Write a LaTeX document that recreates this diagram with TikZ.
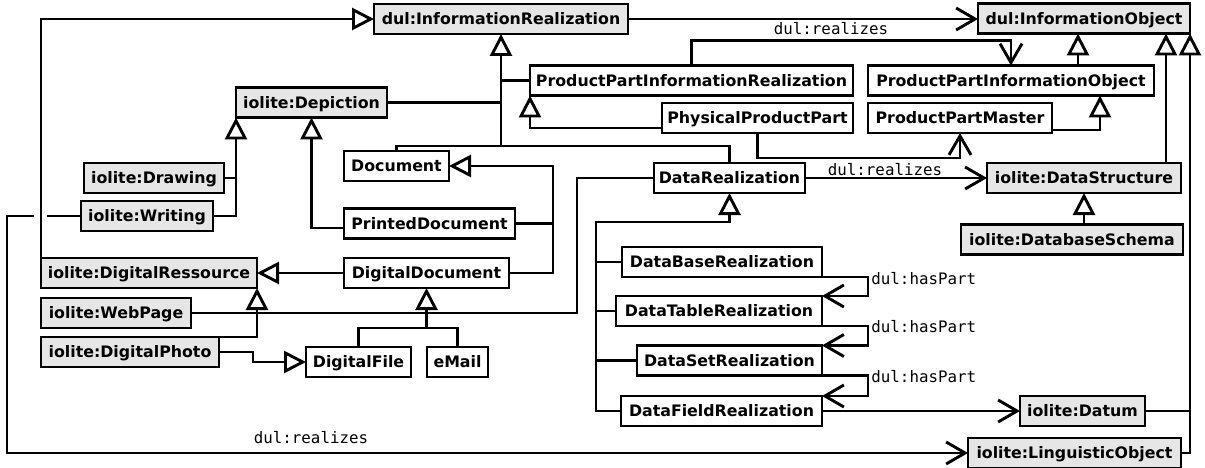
\documentclass[tikz,border=0pt]{standalone}
\usepackage{fontspec}
\setmainfont{DejaVu Sans}
\setmonofont{DejaVu Sans Mono}
\usetikzlibrary{arrows.meta}
\definecolor{boxgray}{HTML}{E6E6E6}
\begin{document}
\begin{tikzpicture}[x=1pt,y=-1pt,
  line width=2.9pt,
  cls/.style={draw, fill=white, font=\fontsize{15.8}{19}\selectfont\bfseries,
    minimum height=30pt, inner sep=0pt, outer sep=0pt, text height=11.5pt, text depth=0pt},
  gcls/.style={cls, fill=boxgray},
  lbl/.style={font=\fontsize{15.8}{19}\selectfont\ttfamily, inner sep=0pt},
  gen/.style={-{Triangle[open, length=22pt, width=22pt]}},
  assoc/.style={-{Straight Barb[length=19pt, width=22pt]}}
]
\useasboundingbox (0,0) rectangle (1205,468);

% nodes
\node[gcls, minimum width=254pt] (ir) at (501,19) {dul:InformationRealization};
\node[gcls, minimum width=212pt] (io) at (1084,18.5) {dul:InformationObject};
\node[cls, minimum width=323pt] (ppir) at (691.5,80.5) {ProductPartInformationRealization};
\node[cls, minimum width=286pt] (ppio) at (1011,80.5) {ProductPartInformationObject};
\node[gcls, minimum width=151pt] (dep) at (311.5,102.5) {iolite:Depiction};
\node[cls, minimum width=191pt] (ppp) at (757.5,118) {PhysicalProductPart};
\node[cls, minimum width=184pt] (ppm) at (960,118) {ProductPartMaster};
\node[cls, minimum width=105pt] (doc) at (396.5,166) {Document};
\node[gcls, minimum width=140pt] (drw) at (154,178) {iolite:Drawing};
\node[cls, minimum width=151pt] (dr) at (729.5,178) {DataRealization};
\node[gcls, minimum width=194pt] (ds) at (1084,178) {iolite:DataStructure};
\node[gcls, minimum width=132pt] (wr) at (147,216) {iolite:Writing};
\node[cls, minimum width=171pt] (pd) at (429.5,223.5) {PrintedDocument};
\node[gcls, minimum width=222pt] (dbs) at (1072,239.5) {iolite:DatabaseSchema};
\node[gcls, minimum width=216pt] (dres) at (149,273) {iolite:DigitalRessource};
\node[cls, minimum width=165pt] (dd) at (426.5,273) {DigitalDocument};
\node[cls, minimum width=200pt] (dbr) at (722,262) {DataBaseRealization};
\node[gcls, minimum width=150pt] (wp) at (116,313) {iolite:WebPage};
\node[cls, minimum width=206pt] (dtr) at (719,311) {DataTableRealization};
\node[gcls, minimum width=178pt] (dph) at (130,352) {iolite:DigitalPhoto};
\node[cls, minimum width=105pt] (df) at (358.5,362) {DigitalFile};
\node[cls, minimum width=61pt] (em) at (457.5,362) {eMail};
\node[cls, minimum width=185pt] (dsr) at (729.5,360.5) {DataSetRealization};
\node[cls, minimum width=201pt] (dfr) at (721.5,411) {DataFieldRealization};
\node[gcls, minimum width=125pt] (dat) at (1082.5,411) {iolite:Datum};
\node[gcls, minimum width=213pt] (lo) at (1074.5,453) {iolite:LinguisticObject};

% labels
\node[lbl] (l1) at (831,29) {dul:realizes};
\node[lbl] (l2) at (885,170) {dul:realizes};
\node[lbl] (l3) at (311,438) {dul:realizes};
\node[lbl, anchor=west] (hp1) at ([xshift=48pt,yshift=-2pt]dbr.south east) {dul:hasPart};
\node[lbl, anchor=west] (hp2) at ([xshift=48pt,yshift=-1pt]dtr.south east) {dul:hasPart};
\node[lbl, anchor=west] (hp3) at ([xshift=48pt,yshift=-1pt]dsr.south east) {dul:hasPart};

% junction coordinates
\coordinate (j1) at ([yshift=-112pt]ir.south);
\coordinate (busTop) at (596,222);
\coordinate (dv) at ([xshift=44pt]dd.east);
\coordinate (ddj) at ([yshift=-40pt]dd.south);

% InformationRealization hierarchy
\draw[gen] (j1) -- (ir.south);
\draw (doc.north) |- (dr.north |- j1) -- (dr.north);
\draw (dep.east) -- (dep.east -| j1);
\draw (ppir.west) -- (ppir.west -| j1);
\draw[gen] (dres.north west) |- (ir.west);
\draw[assoc] (ir.east) -- (ir.east -| io.west);

% product part
\draw[gen] ([yshift=-10pt]ppp.west) -| (ppir.south west);
\draw[assoc] (ppir.north) -- ++(0,-25) -| (ppio.north);
\draw[gen] ([xshift=67pt]ppio.north) -- ([xshift=67pt]ppio.north |- io.south);
\draw[gen] ([yshift=-12pt]ppm.east) -| ([xshift=89pt]ppio.south);
\draw[assoc] (ppp.south) -- ++(0,25) -| (ppm.south);

% data
\draw[assoc] (dr.east) -- (ds.west);
\draw[gen] ([xshift=82pt]ds.north) -- ([xshift=82pt]ds.north |- io.south);
\draw[gen] (ds.south |- dbs.north) -- (ds.south);
\draw[gen] (dat.east) -| (io.south east);
\draw (lo.east) -| (dat.east -| io.south east);
\draw[gen] (dfr.west) -| (busTop) -| (dr.south);
\draw (dbr.west) -- (dbr.west -| busTop);
\draw (dtr.west) -- (dtr.west -| busTop);
\draw (dsr.west) -- (dsr.west -| busTop);
\draw[assoc] (dbr.south east) -- ++(46,0) |- (dtr.north east);
\draw[assoc] (dtr.south east) -- ++(46,0) |- (dsr.north east);
\draw[assoc] (dsr.south east) -- ++(46,0) |- (dfr.north east);
\draw[assoc] (dfr.east) -- (dat.west);

% depiction / documents
\draw[gen] (wr.east) -| (dep.south west);
\draw (drw.east) -- (drw.east -| dep.south west);
\draw[gen] ([yshift=-4.5pt]pd.west) -| (dep.south);
\draw[gen] (dd.east) -- (dv) |- (doc.east);
\draw (pd.east) -- (pd.east -| dv);
\draw[gen] (dd.west) -- (dres.east);
\draw (wp.east) -| ([xshift=-77pt]dr.west) -- (dr.west);
\draw[gen] (dph.north east) -| (dres.south east);
\draw[gen] (dph.east) -- ++(34,0) |- (df.west);
\draw[gen] (df.north) |- (ddj) -- (dd.south);
\draw (em.north) |- (ddj);

% writing realizes linguistic object
\draw (wr.west) -- ++(-34,0);
\draw[assoc] ([xshift=-47pt]wr.west) -- ++(-27,0) |- (lo.west);
\end{tikzpicture}
\end{document}
